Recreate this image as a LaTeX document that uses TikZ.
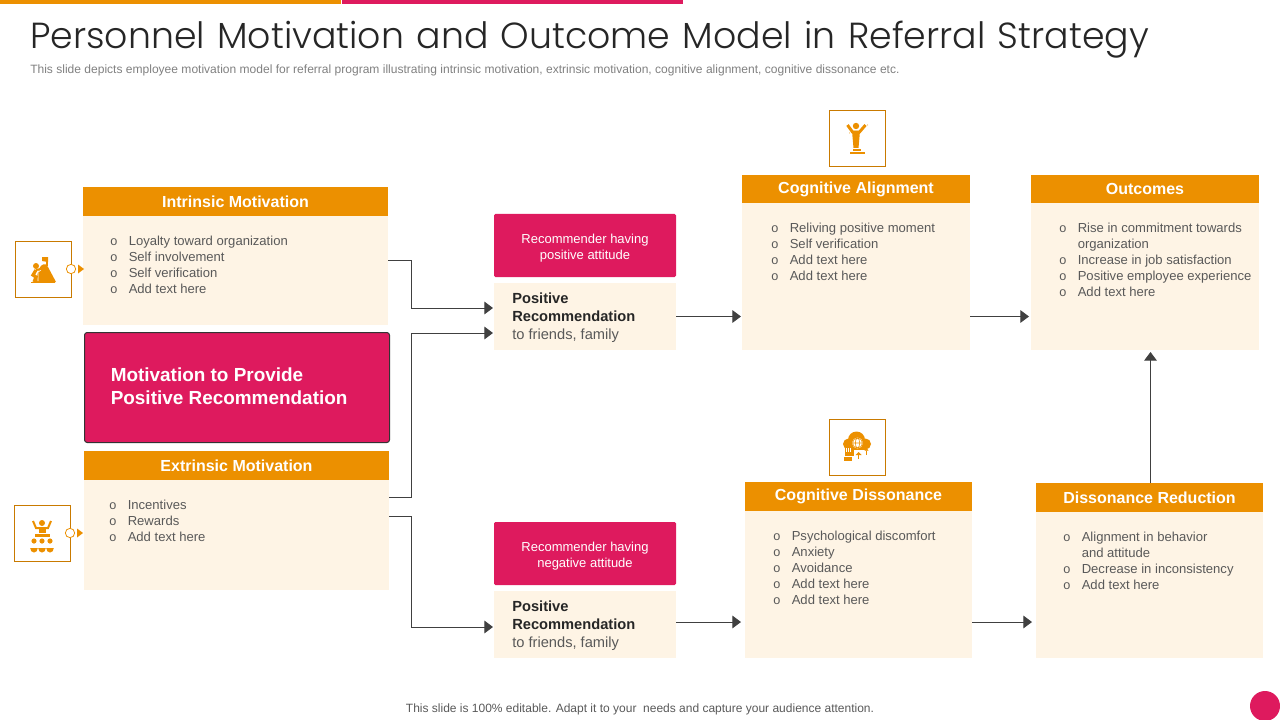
\documentclass[tikz,border=0pt]{standalone}
\usepackage{fontspec}
\setmainfont{Liberation Sans}
\newfontfamily\titlefont[WordSpace=1.25]{Poppins Light}
\usetikzlibrary{calc, arrows.meta}
\definecolor{mango}{HTML}{EC9000}
\definecolor{cream}{HTML}{FEF4E5}
\definecolor{berry}{HTML}{DE1A5E}
\definecolor{bodygray}{HTML}{595959}
\definecolor{linkgray}{HTML}{404040}
\newlength{\pxunit}
\setlength{\pxunit}{0.75pt}
\newcommand{\bul}{\makebox[18.5\pxunit][l]{\fontsize{9.5}{12}\selectfont o}}
\tikzset{
  boxsize/.style 2 args={minimum width=#1*0.75pt, minimum height=#2*0.75pt, inner sep=0pt, outer sep=0pt},
  head/.style={fill=mango, text=white, font=\fontsize{12}{14}\selectfont\bfseries},
  card/.style={fill=cream},
  listtext/.style={anchor=north west, inner sep=0pt, align=left, text=bodygray, font=\fontsize{9.8}{12}\selectfont},
  iconbox/.style={boxsize={56}{56}, draw=mango!85!black, line width=0.6pt},
  port/.style={circle, draw=mango, fill=white, minimum size=7pt, inner sep=0pt, line width=0.6pt},
  attitude/.style={fill=berry, rounded corners=1pt, text=white, align=center, font=\fontsize{9.75}{12}\selectfont},
  link/.style={draw=linkgray, line width=0.75pt, -{Triangle[length=6.5pt, width=9.5pt]}},
  icon/.style={fill=mango, draw=none}
}

\begin{document}
\begin{tikzpicture}[x=0.75pt, y=-0.75pt]
  \useasboundingbox (0, 0) rectangle (1280, 720);
  \fill[mango] (0, 0) rectangle (341, 4);
  \fill[berry] (342, 0) rectangle (683, 4);
  \draw (30, 40) node[anchor=west, inner sep=0pt, text=black!85, font=\titlefont\fontsize{27.2}{32}\selectfont] (title) {Personnel Motivation and Outcome Model in Referral Strategy};
  \draw (30, 70) node[anchor=west, inner sep=0pt, text=black!50, font=\fontsize{9.03}{11}\selectfont] (subtitle) {This slide depicts employee motivation model for referral program illustrating intrinsic motivation, extrinsic motivation, cognitive alignment, cognitive dissonance etc.};

% left column
  \draw (235.5, 201.5) node[head, boxsize={305}{29}] (inhead) {Intrinsic Motivation};
  \draw ($(inhead.south) + (0, 54.5)$) node[card, boxsize={305}{109}] (inbody) {};
  \draw ($(inhead.south west) + (27, 20)$) node[listtext] (inlist) {\bul Loyalty toward organization\\\bul Self involvement\\\bul Self verification\\\bul Add text here};

  \draw (237, 387.5) node[fill=berry, draw=black!80, rounded corners=2pt, line width=0.75pt, boxsize={305}{110}] (motive) {};
  \draw ($(motive.west) + (26, -1)$) node[anchor=west, inner sep=0pt, align=left, text=white, font=\fontsize{14.2}{17.25}\selectfont\bfseries] (motivetext) {Motivation to Provide\\Positive Recommendation};

  \draw (236.5, 465.5) node[head, boxsize={305}{29}] (exhead) {Extrinsic Motivation};
  \draw ($(exhead.south) + (0, 55)$) node[card, boxsize={305}{110}] (exbody) {};
  \draw ($(exhead.south west) + (25, 20)$) node[listtext] (exlist) {\bul Incentives\\\bul Rewards\\\bul Add text here};

  \draw (43, 269) node[iconbox] (inicon) {};
  \draw (42, 533) node[iconbox] (exicon) {};
  \foreach \i in {in, ex}{
    \draw (\i icon.east) node[port] (\i port) {};
    \fill[mango] ($(\i port.east) + (2, -4.5)$) -- ++(6, 4.5) -- ++(-6, 4.5) -- cycle;
  }

% middle column
  \foreach \i/\y/\att in {1/245.5/positive, 2/553.5/negative}{
    \draw (585, \y) node[boxsize={182}{63}, fill=berry, rounded corners=1pt] (attitude\i) {};
    \draw ($(attitude\i.center) + (0, 2.5)$) node[attitude, fill=none, inner sep=0pt] (atttext\i) {Recommender having\\\att\ attitude};
    \draw ($(attitude\i.south) + (0, 39.5)$) node[card, boxsize={182}{67}] (posrec\i) {};
    \draw ($(posrec\i.west) + (18, 1)$) node[anchor=west, inner sep=0pt, align=left, text=bodygray, font=\fontsize{11}{13.5}\selectfont] (postext\i) {\textcolor{black!85}{\textbf{Positive}}\\\textcolor{black!85}{\textbf{Recommendation}}\\to friends, family};
  }

% right columns
  \draw (856, 189) node[head, boxsize={228}{28}] (alignhead) {Cognitive Alignment};
  \draw ($(alignhead.south) + (0, 73.5)$) node[card, boxsize={228}{147}] (alignbody) {};
  \draw ($(alignhead.south west) + (29, 20)$) node[listtext] (alignlist) {\bul Reliving positive moment\\\bul Self verification\\\bul Add text here\\\bul Add text here};

  \draw (1145, 189) node[head, boxsize={228}{28}] (outhead) {Outcomes};
  \draw ($(outhead.south) + (0, 73.5)$) node[card, boxsize={228}{147}] (outbody) {};
  \draw ($(outhead.south west) + (28, 20)$) node[listtext] (outlist) {\bul Rise in commitment towards\\\hphantom{\bul}organization\\\bul Increase in job satisfaction\\\bul Positive employee experience\\\bul Add text here};

  \draw (858.5, 496.5) node[head, boxsize={227}{29}] (dishead) {Cognitive Dissonance};
  \draw ($(dishead.south) + (0, 73.5)$) node[card, boxsize={227}{147}] (disbody) {};
  \draw ($(dishead.south west) + (28, 20)$) node[listtext] (dislist) {\bul Psychological discomfort\\\bul Anxiety\\\bul Avoidance\\\bul Add text here\\\bul Add text here};

  \draw (1149.5, 497.5) node[head, boxsize={227}{29}] (redhead) {Dissonance Reduction};
  \draw ($(redhead.south) + (0, 73)$) node[card, boxsize={227}{146}] (redbody) {};
  \draw ($(redhead.south west) + (27, 20)$) node[listtext] (redlist) {\bul Alignment in behavior\\\hphantom{\bul}and attitude\\\bul Decrease in inconsistency\\\bul Add text here};

  \draw ($(alignhead.north) + (1.5, -37)$) node[iconbox] (alignicon) {};
  \draw ($(dishead.north) + (-1, -35)$) node[iconbox] (disicon) {};

% connectors
  \coordinate (alignout) at ($(alignbody.east) + (0, 40)$);
  \coordinate (disout) at ($(disbody.east) + (0, 37.5)$);
  \coordinate (redout) at ($(redhead.north) + (1, 0)$);
  \coordinate (outin) at ($(redout |- outbody.south) + (0, 2)$);
  \draw[link] ($(inbody.east) + (0, -10)$) -- ++(23, 0) |- ($(posrec1.west) + (-1, -8.5)$);
  \draw[link] ($(exbody.east) + (0, -38)$) -- ++(22, 0) |- ($(posrec1.west) + (-1, 16.5)$);
  \draw[link] ($(exbody.east) + (0, -19)$) -- ++(22, 0) |- ($(posrec2.west) + (-1, 2.5)$);
  \draw[link] (posrec1.east) -- ++(65, 0);
  \draw[link] (posrec2.east) ++(0, -2.5) -- ++(65, 0);
  \draw[link] (alignout) -- ++(59, 0);
  \draw[link] (disout) -- ++(60, 0);
  \draw[link] (redout) -- (outin);

% icons
  \begin{scope}[shift={(inicon.center)}]
    \fill[icon] (-8, 13) -- (-4, 0) .. controls (-2, -5) and (3, -7) .. (5, -2) -- (13, 13) -- cycle;
    \draw[mango, line width=0.8pt] (4, -3) -- (4, -12);
    \fill[icon] (-1, -12) -- (5, -12) -- (5, -7) -- (-1, -8) -- cycle;
    \fill[icon] (-7, -3) circle (3);
    \fill[icon] (-12, 13) rectangle (12, 13.5);
    \draw[white, line width=0.6pt] (-5, 12) -- (-5, 3) -- (-2, 1);
    \draw[mango, line width=2.4pt] (-7, 1) -- (-10, 6) -- (-7, 8) -- (-9, 13);
    \draw[mango, line width=1.5pt] (-7, 1) -- (-2, 0);
  \end{scope}
  \begin{scope}[shift={(exicon.center)}]
    \fill[icon] (0, -10) circle (3);
    \draw[mango, line width=1.5pt] (-9, -12) -- (-6, -5) -- (6, -5) -- (9, -12);
    \fill[icon] (-3.5, -6) rectangle (3.5, 0);
    \fill[icon] (-7.5, 1) rectangle (7.5, 4);
    \foreach \k in {-8, 0, 8}{
      \fill[icon] (\k, 8) circle (2.6);
      \fill[icon] (\k - 3.8, 15) arc (180:0:3.8 and 4.6) -- cycle;
    }
  \end{scope}
  \begin{scope}[shift={(alignicon.center)}]
    \fill[icon] (-1.5, -12) circle (3.2);
    \draw[mango, line width=2.2pt] (-10, -13) -- (-5, -6) -- (2, -6) -- (8, -13);
    \fill[icon] (-5.5, -7) -- (2.5, -7) -- (1, 10) -- (-4, 10) -- cycle;
    \fill[icon] (-5, 11) rectangle (3, 13);
    \fill[icon] (-8, 14) rectangle (7, 16);
    \fill[icon] (10, -13) circle (0.5);
    \fill[icon] (-8, -5) circle (0.5);
  \end{scope}
  \begin{scope}[shift={(disicon.center)}]
    \fill[icon] (-9, -3) circle (5.5);
    \fill[icon] (-1, -7) circle (8.5);
    \fill[icon] (8, -3) circle (5.5);
    \fill[icon] (-9, -3) rectangle (8, 3);
    \fill[white] (0, -4) circle (5.5);
    \draw[mango, line width=0.4pt] (0, -4) ellipse (5 and 5) (0, -4) ellipse (2.2 and 5) (-5, -4) -- (5, -4);
    \fill[white] (-4, 3) rectangle (5, 11);
    \fill[icon] (-13, 1) rectangle (-4, 9);
    \fill[icon] (-14, 10) rectangle (-6, 14);
    \draw[white, line width=0.4pt] (-11, 1) -- (-11, 5) (-9, 1) -- (-9, 5) (-7, 1) -- (-7, 5);
    \fill[icon] (1, 5) -- (4, 8) -- (-2, 8) -- cycle;
    \draw[mango, line width=0.8pt] (1, 8) -- (1, 12);
    \draw[mango, line width=1pt, -{Triangle[length=2pt, width=3pt]}] (9, 8) -- (9, 1);
  \end{scope}

% footer
  \draw (640, 709) node[inner sep=0pt, text=bodygray, font=\fontsize{9}{11}\selectfont] (footer) {This slide is 100\% editable. Adapt it to your\ \ needs and capture your audience attention.};
  \draw (1265, 706) node[circle, fill=berry, minimum size=22.5pt, inner sep=0pt] (badge) {};
\end{tikzpicture}
\end{document}
